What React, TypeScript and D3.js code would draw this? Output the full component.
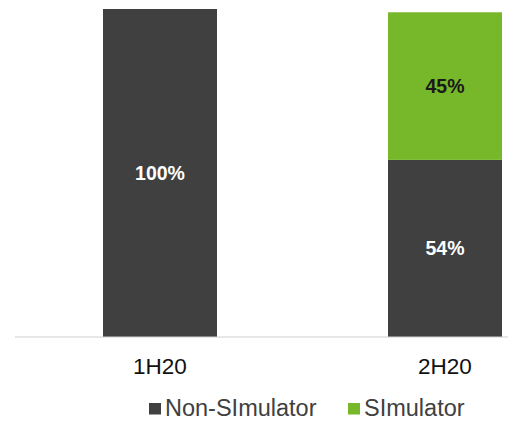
import React from "react";
import * as d3 from "d3";

// Share of workload by period
const categories = ["1H20", "2H20"];
const nonSimulator = [100, 54];
const simulator = [0, 45];
const seriesNames = ["Non-SImulator", "SImulator"];
const seriesColors = ["#404040", "#76b82a"];
const labelColors = ["#ffffff", "#1a1a1a"];

const W = 508;
const H = 421;
const FONT = "'Liberation Sans', Arial, Helvetica, sans-serif";

export default function App() {
  const rows = categories.map((c, i) => ({
    category: c,
    [seriesNames[0]]: nonSimulator[i],
    [seriesNames[1]]: simulator[i],
  }));
  const stacked = d3.stack<any>().keys(seriesNames)(rows);

  const x = d3
    .scaleBand<string>()
    .domain(categories)
    .range([17.5, 587.5])
    .paddingInner(0.6)
    .paddingOuter(0.3);
  const y = d3.scaleLinear().domain([0, 100]).range([337, 9]);

  const legendItems = [
    { name: seriesNames[0], color: seriesColors[0], sx: 149, tx: 165 },
    { name: seriesNames[1], color: seriesColors[1], sx: 348, tx: 364 },
  ];

  return (
    <div style={{ position: "fixed", left: 0, top: 0 }}>
      <svg width={W} height={H} style={{ display: "block", background: "#ffffff" }}>
        {stacked.map((layer, si) => (
          <g key={layer.key}>
            {layer.map((d, i) => {
              const v = d[1] - d[0];
              if (v <= 0) return null;
              const bx = x(categories[i]) as number;
              const top = y(d[1]);
              const bottom = y(d[0]);
              return (
                <g key={categories[i]}>
                  <rect
                    x={bx}
                    y={top}
                    width={x.bandwidth()}
                    height={bottom - top}
                    fill={seriesColors[si]}
                  />
                  <text
                    x={bx + x.bandwidth() / 2}
                    y={(top + bottom) / 2}
                    dy="0.36em"
                    textAnchor="middle"
                    fontFamily={FONT}
                    fontWeight="bold"
                    fontSize={19.5}
                    fill={labelColors[si]}
                  >
                    {`${v}%`}
                  </text>
                </g>
              );
            })}
          </g>
        ))}
        <line x1={15} x2={W} y1={337} y2={337} stroke="#d0d0d0" strokeWidth={1.2} />
        {categories.map((c) => (
          <text
            key={c}
            x={(x(c) as number) + x.bandwidth() / 2}
            y={373.5}
            textAnchor="middle"
            fontFamily={FONT}
            fontSize={22.5}
            fill="#111111"
          >
            {c}
          </text>
        ))}
        {legendItems.map((l) => (
          <g key={l.name}>
            <rect x={l.sx} y={403} width={12} height={11.5} fill={l.color} />
            <text x={l.tx} y={415.5} fontFamily={FONT} fontSize={23.5} fill="#404040">
              {l.name}
            </text>
          </g>
        ))}
      </svg>
    </div>
  );
}
